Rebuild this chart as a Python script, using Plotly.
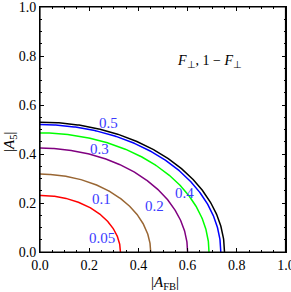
import numpy as np
import plotly.graph_objects as go

# contour levels and their quarter-ellipse intercepts
levels = [0.05, 0.1, 0.2, 0.3, 0.4, 0.5]
x_intercepts = [0.327, 0.450, 0.600, 0.687, 0.735, 0.750]
y_intercepts = [0.231, 0.318, 0.424, 0.486, 0.520, 0.530]
colors = ["#ff0000", "#996633", "#800080", "#00ff00", "#0000ff", "#000000"]

label_text = ["0.05", "0.1", "0.2", "0.3", "0.4", "0.5"]
label_x = [0.253, 0.25, 0.467, 0.24, 0.589, 0.278]
label_y = [0.056, 0.215, 0.188, 0.42, 0.24, 0.528]

xticks = [0.0, 0.2, 0.4, 0.6, 0.8, 1.0]
yticks = [0.0, 0.2, 0.4, 0.6, 0.8, 1.0]

SERIF = "Liberation Serif"

fig = go.Figure()
t = np.linspace(0, np.pi / 2, 200)
for a, b, c in zip(x_intercepts, y_intercepts, colors):
    fig.add_trace(go.Scatter(x=a * np.cos(t), y=b * np.sin(t), mode="lines",
                             line=dict(color=c, width=1.5), showlegend=False,
                             hoverinfo="skip"))

for s, lx, ly in zip(label_text, label_x, label_y):
    fig.add_annotation(x=lx, y=ly, text=s, showarrow=False,
                       font=dict(family=SERIF, size=15, color="#3a3aff"))

fig.add_annotation(x=0.691, y=0.777, text="<i>F</i><sub>⊥</sub>, 1 − <i>F</i><sub>⊥</sub>",
                   showarrow=False, font=dict(family=SERIF, size=14, color="black"))

# axis titles
fig.add_annotation(xref="paper", yref="paper", x=0.508, y=-0.127,
                   xanchor="center", yanchor="middle",
                   text="|<i>A</i><sub>FB</sub>|", showarrow=False,
                   font=dict(family=SERIF, size=15, color="black"))
fig.add_annotation(xref="paper", yref="paper", x=-0.122, y=0.449, textangle=-90,
                   xanchor="center", yanchor="middle",
                   text="|<i>A</i><sub>5</sub>|", showarrow=False,
                   font=dict(family=SERIF, size=15, color="black"))

# frame (right edge drawn explicitly)
fig.add_shape(type="rect", xref="paper", yref="paper", x0=0, x1=0.998, y0=0, y1=1,
              line=dict(color="black", width=1.2), layer="above")

axis_common = dict(range=[0, 1], showgrid=False, zeroline=False, showline=True,
                   linecolor="black", linewidth=1, mirror="allticks", ticks="inside",
                   ticklen=4, tickcolor="black", tickformat=".1f", automargin=False,
                   ticklabeloverflow="allow",
                   tickfont=dict(family=SERIF, size=14, color="black"),
                   minor=dict(ticks="inside", ticklen=2, dtick=0.05, tickcolor="black"))

fig.update_xaxes(**axis_common, tickvals=xticks)
fig.update_yaxes(**axis_common, tickvals=yticks)

fig.update_layout(width=291, height=292, margin=dict(l=40, r=5, t=7, b=40),
                  plot_bgcolor="white", paper_bgcolor="white")
fig.write_html("out.html", config={"displayModeBar": False},
               post_script="document.body.style.margin='0';document.body.style.overflow='hidden';")
